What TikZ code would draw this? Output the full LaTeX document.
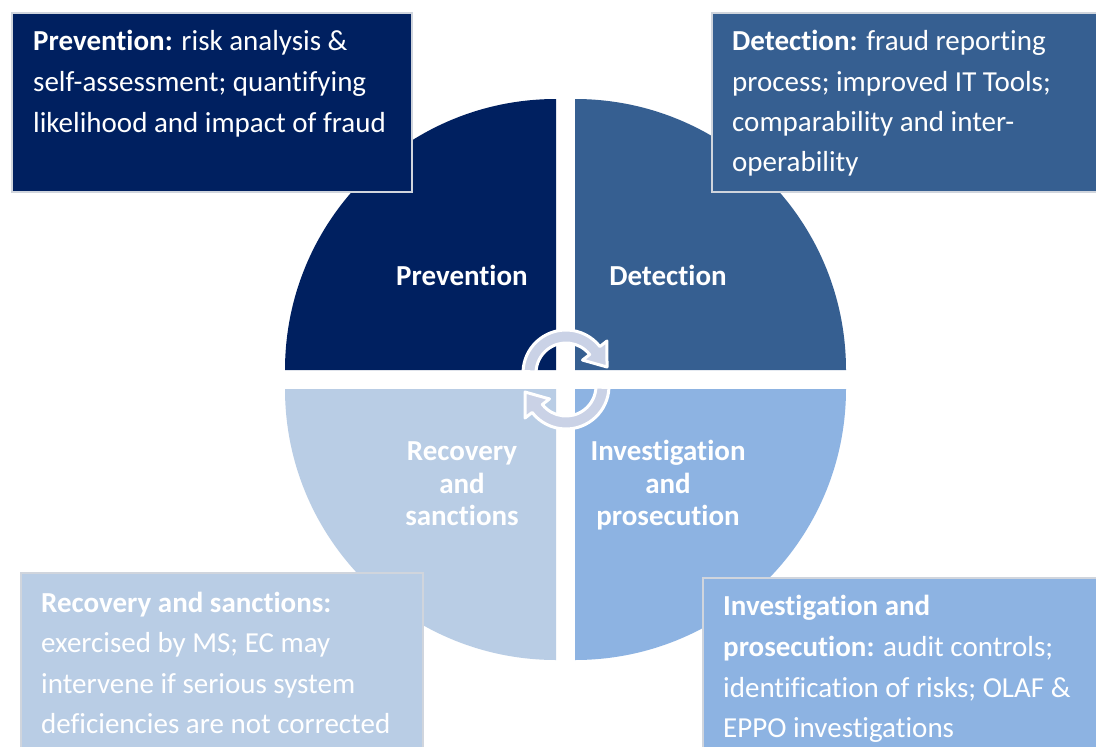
\documentclass[tikz,border=0pt]{standalone}
\usepackage{fontspec}
\setmainfont{Carlito}[RawFeature={-liga;-clig}]
\definecolor{cPrev}{HTML}{002060}
\definecolor{cDet}{HTML}{365F91}
\definecolor{cInv}{HTML}{8DB3E2}
\definecolor{cRec}{HTML}{B9CDE5}
\definecolor{cArrow}{HTML}{CAD2E6}
\definecolor{cEdge}{HTML}{D0D5DD}
\begin{document}
\begin{tikzpicture}[x=1pt,y=-1pt,
  boxtext/.style={anchor=base west, inner sep=0pt, text=white, font=\fontsize{29}{40.7}\selectfont},
  qlabel/.style={anchor=base, inner sep=0pt, text=white, font=\fontsize{29}{33}\selectfont\bfseries},
  infobox/.style={draw=cEdge, line width=1.2pt},
  cyclearrow/.style={fill=cArrow, draw=white, line width=3pt, line join=round}]
\useasboundingbox (0,0) rectangle (1096,747);
\fill[white] (0,0) rectangle (1096,747);
% quadrants
\fill[cPrev] (556,370) -- (285,370) arc[start angle=180, end angle=270, radius=271] -- cycle;
\fill[cDet] (575,370) -- (575,99) arc[start angle=270, end angle=360, radius=271] -- cycle;
\fill[cInv] (575,389) -- (846,389) arc[start angle=0, end angle=90, radius=271] -- cycle;
\fill[cRec] (556,389) -- (556,660) arc[start angle=90, end angle=180, radius=271] -- cycle;
% quadrant labels
\node[qlabel] (lprev) at (462,285) {Prevention};
\node[qlabel] (ldet) at (668,285) {Detection};
\node[qlabel] (lrec1) at (462,460) {Recovery};
\node[qlabel] (lrec2) at (462,493) {and};
\node[qlabel] (lrec3) at (462,525) {sanctions};
\node[qlabel] (linv1) at (668,460) {Investigation};
\node[qlabel] (linv2) at (668,493) {and};
\node[qlabel] (linv3) at (668,525) {prosecution};
% cycle arrows
\draw[cyclearrow] ([shift={(566,373)}]182:43) arc[start angle=182, end angle=322, radius=43]
  -- ([shift={(566,373)}]322:52) -- (607,367) -- ([shift={(566,373)}]322:21)
  -- ([shift={(566,373)}]322:30) arc[start angle=322, end angle=182, radius=30] -- cycle;
\draw[cyclearrow] ([shift={(566,386)}]2:43) arc[start angle=2, end angle=142, radius=43]
  -- ([shift={(566,386)}]142:52) -- (525,392) -- ([shift={(566,386)}]142:21)
  -- ([shift={(566,386)}]142:30) arc[start angle=142, end angle=2, radius=30] -- cycle;
% info boxes
\filldraw[infobox, fill=cPrev] (12,13) rectangle (412,192);
\node[boxtext] (tp1) at (33,50) {\textbf{Prevention:} risk analysis \&};
\node[boxtext] (tp2) at (33,91) {self-assessment; quantifying};
\node[boxtext] (tp3) at (33,132) {likelihood and impact of fraud};
\filldraw[infobox, fill=cDet] (712,13) rectangle (1100,192);
\node[boxtext] (td1) at (732,50) {\textbf{Detection:} fraud reporting};
\node[boxtext] (td2) at (732,91) {process; improved IT Tools;};
\node[boxtext] (td3) at (732,131) {comparability and inter-};
\node[boxtext] (td4) at (732,171) {operability};
\filldraw[infobox, fill=cRec] (21,573) rectangle (423,752);
\node[boxtext] (tr1) at (41,612) {\textbf{Recovery and sanctions:}};
\node[boxtext] (tr2) at (41,652) {exercised by MS; EC may};
\node[boxtext] (tr3) at (41,693) {intervene if serious system};
\node[boxtext] (tr4) at (41,733) {deficiencies are not corrected};
\filldraw[infobox, fill=cInv] (703,578) rectangle (1100,752);
\node[boxtext] (ti1) at (723,615) {\textbf{Investigation and}};
\node[boxtext] (ti2) at (723,656) {\textbf{prosecution:} audit controls;};
\node[boxtext] (ti3) at (723,697) {identification of risks; OLAF \&};
\node[boxtext] (ti4) at (723,737) {EPPO investigations};
\end{tikzpicture}
\end{document}
